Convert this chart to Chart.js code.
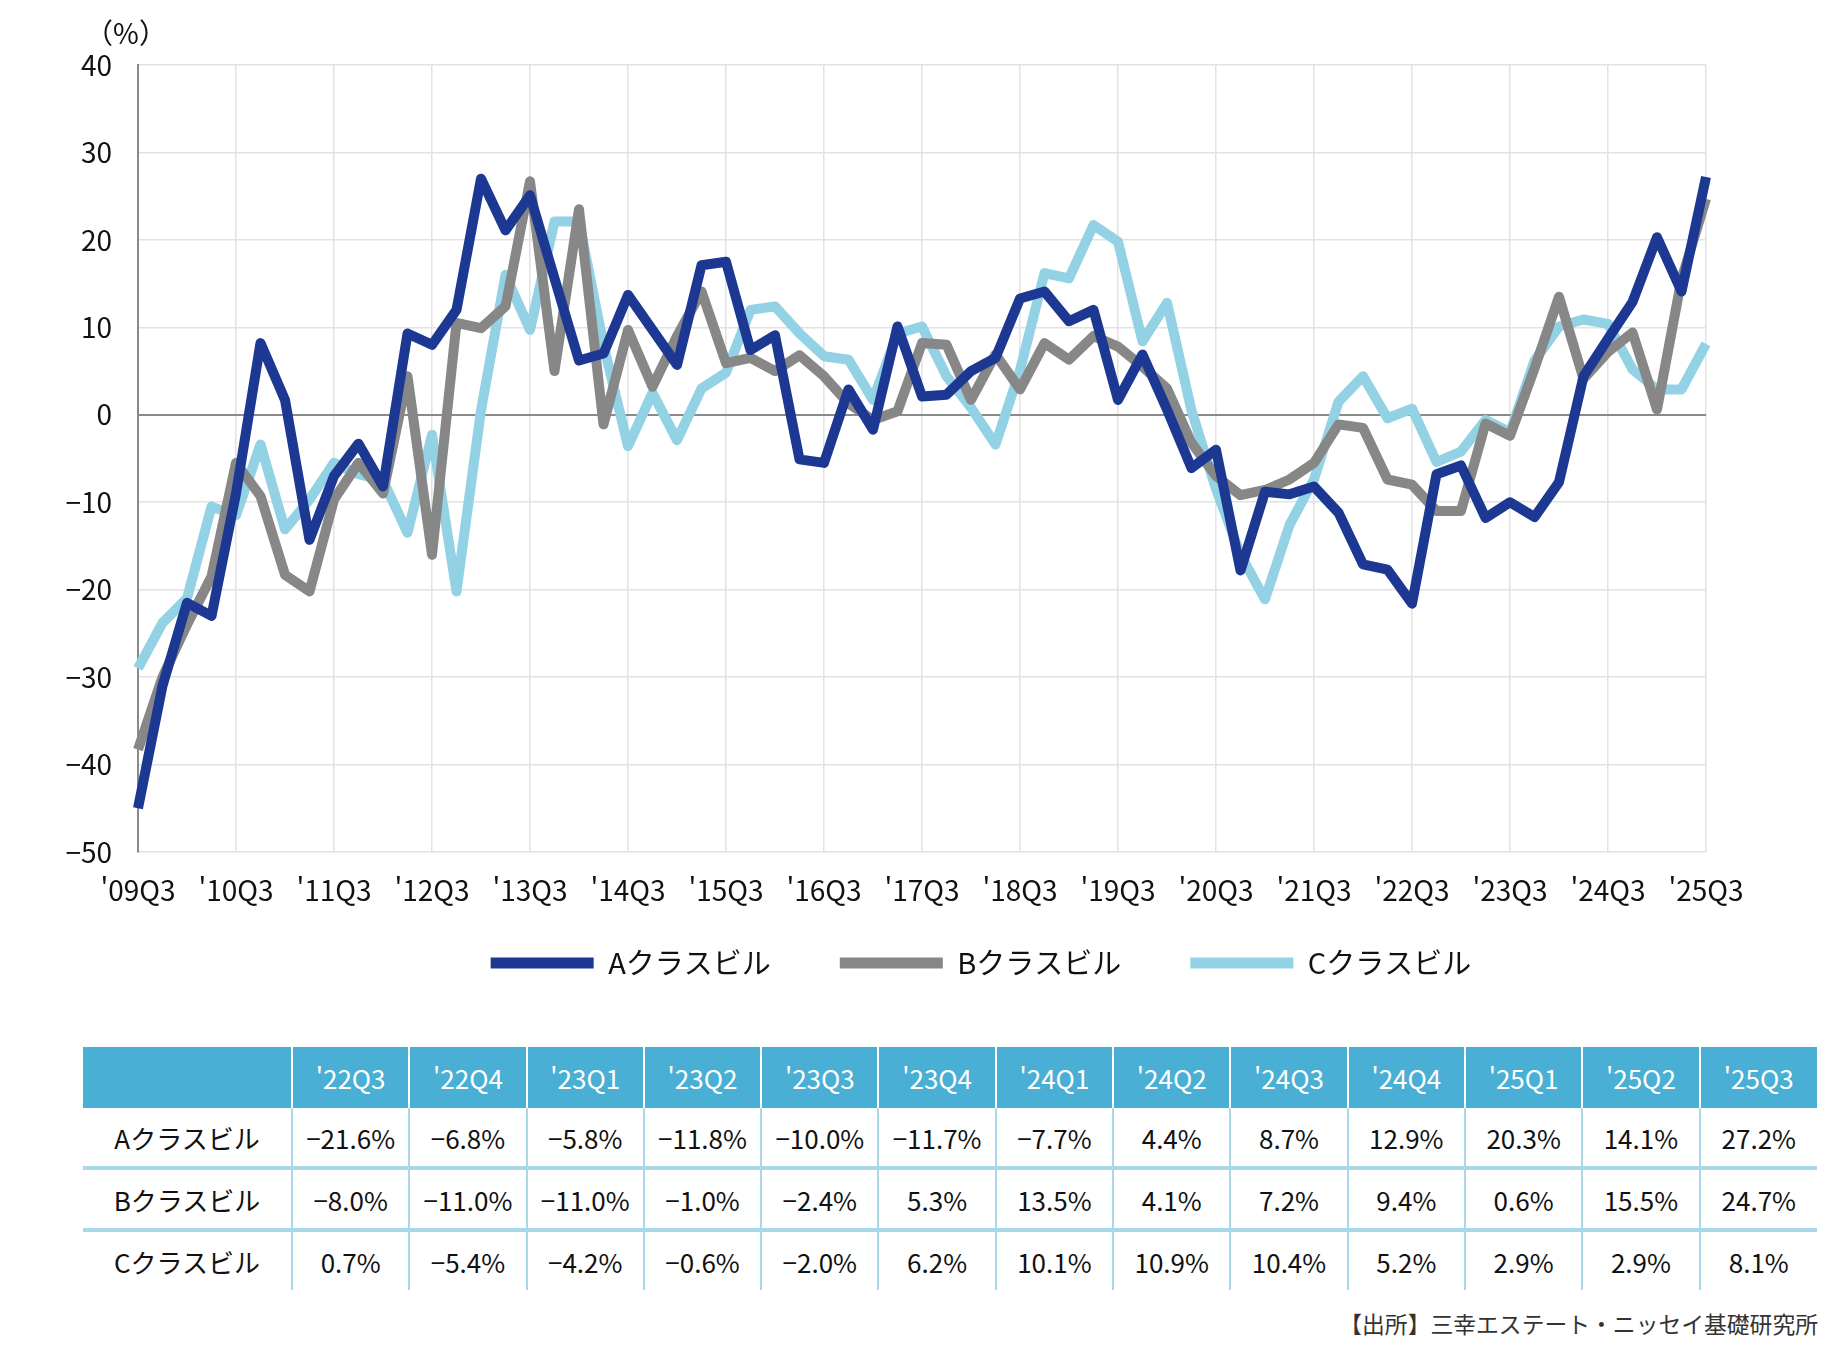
<!DOCTYPE html>
<html lang="ja">
<head>
<meta charset="utf-8">
<title>クラス別ビル 成約賃料 前年比</title>
<script src="https://cdn.jsdelivr.net/npm/chart.js@4.4.1/dist/chart.umd.min.js"></script>
<style>
  html, body { margin: 0; padding: 0; background: #fff; }
  body { width: 1843px; height: 1350px; position: relative; overflow: hidden;
         font-family: "Noto Sans CJK JP", "Noto Sans", sans-serif; color: #111; }
  #myChart { position: absolute; left: 0; top: 0; }
  #tbl { position: absolute; left: 83px; top: 1047px; width: 1734px;
         border-collapse: collapse; table-layout: fixed; font-size: 26px; }
  #tbl th { background: #4aafd4; color: #fff; font-weight: normal; height: 61px;
            padding: 0; border-left: 2px solid #fff; }
  #tbl td { height: 58px; padding: 0; text-align: center; border-left: 2px solid #a8d8ea; }
  #tbl th:first-child, #tbl td:first-child { border-left: none; }
  #tbl tr.sep td { border-bottom: 4px solid #a8d8ea; }
  #source { position: absolute; right: 25px; top: 1307px; font-size: 22.8px; color: #333; }
</style>
</head>
<body>
<canvas id="myChart" width="1843" height="1030"></canvas>
<table id="tbl"></table>
<div id="source">【出所】三幸エステート・ニッセイ基礎研究所</div>
<script>
const quarters = [
  "'09Q3", "'09Q4",
  "'10Q1", "'10Q2", "'10Q3", "'10Q4",
  "'11Q1", "'11Q2", "'11Q3", "'11Q4",
  "'12Q1", "'12Q2", "'12Q3", "'12Q4",
  "'13Q1", "'13Q2", "'13Q3", "'13Q4",
  "'14Q1", "'14Q2", "'14Q3", "'14Q4",
  "'15Q1", "'15Q2", "'15Q3", "'15Q4",
  "'16Q1", "'16Q2", "'16Q3", "'16Q4",
  "'17Q1", "'17Q2", "'17Q3", "'17Q4",
  "'18Q1", "'18Q2", "'18Q3", "'18Q4",
  "'19Q1", "'19Q2", "'19Q3", "'19Q4",
  "'20Q1", "'20Q2", "'20Q3", "'20Q4",
  "'21Q1", "'21Q2", "'21Q3", "'21Q4",
  "'22Q1", "'22Q2", "'22Q3", "'22Q4",
  "'23Q1", "'23Q2", "'23Q3", "'23Q4",
  "'24Q1", "'24Q2", "'24Q3", "'24Q4",
  "'25Q1", "'25Q2", "'25Q3"
];
const yearTicks = ["'09Q3", "'10Q3", "'11Q3", "'12Q3", "'13Q3", "'14Q3", "'15Q3", "'16Q3", "'17Q3",
  "'18Q3", "'19Q3", "'20Q3", "'21Q3", "'22Q3", "'23Q3", "'24Q3", "'25Q3"];
const seriesNames = ["Aクラスビル", "Bクラスビル", "Cクラスビル"];

// 前年比（%）
const classA = [
  -45, -31, -21.5, -23, -9, 8.2, 1.7, -14.3, -7, -3.3,
  -8.2, 9.3, 8.0, 12.0, 27.0, 21.1, 25.1, 15.6, 6.2, 7.0,
  13.7, 9.7, 5.7, 17.1, 17.5, 7.4, 9.1, -5.1, -5.5, 2.9,
  -1.7, 10.1, 2.1, 2.3, 5.0, 6.5, 13.3, 14.1, 10.7, 12.0,
  1.7, 6.9, 0.6, -6.1, -4.0, -17.8, -8.8, -9.1, -8.2, -11.2,
  -17.1, -17.7, -21.6, -6.8, -5.8, -11.8, -10.0, -11.7, -7.7, 4.4,
  8.7, 12.9, 20.3, 14.1, 27.2
];
const classB = [
  -38.3, -30, -24, -18.5, -5.5, -9.3, -18.3, -20.2, -9.7, -5.5,
  -9.0, 4.4, -16.0, 10.5, 9.9, 12.4, 26.7, 5.0, 23.5, -1.1,
  9.7, 3.2, 9.0, 14.1, 5.9, 6.5, 5.0, 6.8, 4.4, 1.3,
  -0.6, 0.4, 8.2, 8.0, 1.7, 6.9, 2.9, 8.2, 6.3, 9.0,
  7.8, 5.5, 3.0, -3.2, -7.0, -9.2, -8.6, -7.4, -5.5, -1.1,
  -1.5, -7.4, -8.0, -11.0, -11.0, -1.0, -2.4, 5.3, 13.5, 4.1,
  7.2, 9.4, 0.6, 15.5, 24.7
];
const classC = [
  -29, -23.8, -21, -10.5, -11.5, -3.4, -13.1, -9.7, -5.5, -6.8,
  -7.5, -13.5, -2.3, -20.2, 0.5, 16.0, 9.7, 22.1, 22.1, 8.0,
  -3.6, 2.5, -2.9, 3.0, 4.8, 12.0, 12.4, 9.3, 6.7, 6.3,
  1.7, 9.3, 10.1, 4.4, 0.8, -3.4, 5.1, 16.2, 15.6, 21.7,
  19.8, 8.4, 12.8, 0.5, -8.5, -16, -21.1, -12.6, -7.4, 1.5,
  4.4, -0.4, 0.7, -5.4, -4.2, -0.6, -2.0, 6.2, 10.1, 10.9,
  10.4, 5.2, 2.9, 2.9, 8.1
];
const colors = ["#1c3893", "#878787", "#93d2e5"];
const tableCount = 13;

const FONT = "'Noto Sans CJK JP', 'Noto Sans', sans-serif";

function minusFmt(v) {
  return v < 0 ? "\u2212" + Math.abs(v) : String(v);
}

function pct(v) {
  const s = Math.abs(v).toFixed(1) + "%";
  return v < 0 ? "\u2212" + s : s;
}

const extras = {
  id: "extras",
  afterLayout(chart) {
    // move legend up (over the x label band) and a bit to the right
    const lg = chart.legend;
    lg.left += 128;
    lg.right += 128;
    lg.top -= 42.5;
    lg.bottom -= 42.5;
  },
  afterDraw(chart) {
    const ctx = chart.ctx;
    ctx.save();
    ctx.font = "28px " + FONT;
    ctx.fillStyle = "#111";
    ctx.textAlign = "center";
    ctx.textBaseline = "middle";
    ctx.fillText("（%）", chart.chartArea.left - 12, chart.chartArea.top - 32);
    ctx.restore();
  }
};

function drawChart() {
  const ctx = document.getElementById("myChart").getContext("2d");
  const all = [classA, classB, classC];
  new Chart(ctx, {
    type: "line",
    data: {
      labels: quarters,
      datasets: all.map((data, i) => ({
        label: seriesNames[i],
        data,
        borderColor: colors[i],
        backgroundColor: colors[i],
        borderWidth: 10,
        borderJoinStyle: "round",
        pointRadius: 0,
        tension: 0,
        fill: false
      }))
    },
    options: {
      responsive: false,
      devicePixelRatio: 1,
      animation: false,
      layout: { padding: { top: 65, right: 137, left: 0, bottom: 0 } },
      plugins: {
        tooltip: { enabled: false },
        legend: {
          position: "bottom",
          labels: {
            boxWidth: 103,
            boxHeight: 11,
            padding: 69,
            color: "#111",
            font: { family: FONT, size: 29 },
            generateLabels: (chart) =>
              Chart.defaults.plugins.legend.labels.generateLabels(chart).map((item) => {
                item.lineWidth = 0;
                item.fillStyle = item.strokeStyle;
                return item;
              })
          }
        }
      },
      scales: {
        x: {
          grid: { color: "#e2e2e2", lineWidth: 1.5, drawTicks: false },
          border: { display: false },
          ticks: {
            autoSkip: false,
            maxRotation: 0,
            padding: 22,
            color: "#111",
            font: { family: FONT, size: 28 },
            callback: (value, index) => (yearTicks.includes(quarters[index]) ? quarters[index] : null)
          },
          afterFit: (scale) => { scale.height = 70; }
        },
        y: {
          min: -50,
          max: 40,
          ticks: {
            stepSize: 10,
            padding: 26,
            color: "#111",
            font: { family: FONT, size: 28 },
            callback: (v) => minusFmt(v)
          },
          grid: {
            drawTicks: false,
            color: (c) => (c.tick && c.tick.value === 0 ? "#8a8a8a" : "#e2e2e2"),
            lineWidth: (c) => (c.tick && c.tick.value === 0 ? 2 : 1.5)
          },
          border: { color: "#8a8a8a", width: 2 },
          afterFit: (scale) => { scale.width = 138; }
        }
      }
    },
    plugins: [extras]
  });
}

function buildTable() {
  const tbl = document.getElementById("tbl");
  const heads = quarters.slice(-tableCount);
  let html = '<colgroup><col style="width:209px">';
  heads.forEach(() => { html += "<col>"; });
  html += "</colgroup><tr><th></th>";
  heads.forEach((q) => { html += "<th>" + q + "</th>"; });
  html += "</tr>";
  [classA, classB, classC].forEach((series, i) => {
    html += '<tr class="' + (i < 2 ? "sep" : "") + '"><td>' + seriesNames[i] + "</td>";
    series.slice(-tableCount).forEach((v) => { html += "<td>" + pct(v) + "</td>"; });
    html += "</tr>";
  });
  tbl.innerHTML = html;
}

drawChart();
buildTable();
</script>
</body>
</html>
